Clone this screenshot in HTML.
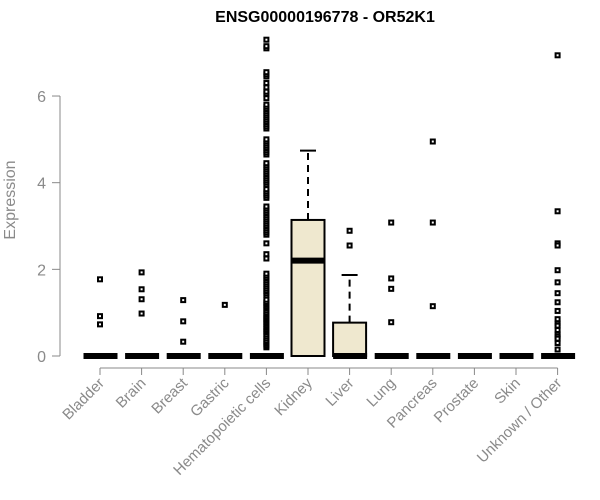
<!DOCTYPE html>
<html><head><meta charset="utf-8"><style>
html,body{margin:0;padding:0;background:#fff;}
svg{display:block;font-family:"Liberation Sans",Arial,sans-serif;}
</style></head><body>
<svg id="chart" width="600" height="500" viewBox="0 0 600 500">
<text x="325" y="22" text-anchor="middle" font-weight="bold" font-size="16">ENSG00000196778 - OR52K1</text>
<text transform="translate(15,200) rotate(-90)" text-anchor="middle" font-size="16" fill="#8a8a8a">Expression</text>
<g id="axes"></g><g id="marks"></g>
</svg>
<script>
const categories=["Bladder","Brain","Breast","Gastric","Hematopoietic cells","Kidney","Liver","Lung","Pancreas","Prostate","Skin","Unknown / Other"];
const q1=[0,0,0,0,0,0,0,0,0,0,0,0];
const medians=[0,0,0,0,0,2.2,0,0,0,0,0,0];
const q3=[0,0,0,0,0,3.14,0.77,0,0,0,0,0];
const whiskerLow=[0,0,0,0,0,0,0,0,0,0,0,0];
const whiskerHigh=[0,0,0,0,0,4.74,1.87,0,0,0,0,0];
const outliers=[
 [1.77,0.92,0.73],
 [1.93,1.54,1.31,0.98],
 [1.29,0.8,0.33],
 [1.18],
 [0.2,0.24,0.28,0.32,0.35,0.4,0.45,0.5,0.55,0.58,0.62,0.66,0.7,0.74,0.78,0.82,0.85,0.88,0.92,0.96,1.0,1.05,1.1,1.14,1.18,1.22,1.25,1.3,1.4,1.45,1.5,1.55,1.6,1.65,1.7,1.75,1.8,1.85,1.9,2.25,2.35,2.6,2.8,2.85,2.9,2.95,3.0,3.05,3.1,3.15,3.2,3.25,3.3,3.35,3.4,3.45,3.65,3.7,3.75,3.8,3.85,3.95,4.0,4.05,4.1,4.15,4.2,4.25,4.3,4.35,4.4,4.45,4.65,4.7,4.75,4.8,4.85,4.9,4.95,5.0,5.25,5.3,5.35,5.4,5.45,5.5,5.55,5.6,5.65,5.7,5.75,5.8,5.95,6.05,6.1,6.2,6.3,6.45,6.5,6.55,7.1,7.15,7.3],
 [],
 [2.89,2.55],
 [3.08,1.79,1.55,0.78],
 [4.95,3.08,1.15],
 [],[],
 [6.94,3.34,2.6,2.55,1.98,1.7,1.45,1.24,1.04,0.85,0.75,0.7,0.6,0.5,0.45,0.4,0.3,0.15]
];
const yTicks=[0,2,4,6];
const NS="http://www.w3.org/2000/svg";
const x0=100,dx=41.6,y0=356,ky=43.33,hw=16.5;
const xs=i=>x0+i*dx, ys=v=>y0-v*ky;
const axes=document.getElementById('axes'),marks=document.getElementById('marks');
function mk(t,a,p){const e=document.createElementNS(NS,t);for(const k in a)e.setAttribute(k,a[k]);p.appendChild(e);return e;}
let yl=mk('line',{x1:60,x2:60,y1:ys(6),y2:ys(0),stroke:'#888'},axes);


yTicks.forEach(t=>{
 let l=mk('line',{x1:52,x2:60,y1:ys(t),y2:ys(t),stroke:'#888'},axes);
 
 
 let tx=mk('text',{x:46,y:ys(t)+6,'text-anchor':'end','font-size':16,fill:'#8a8a8a'},axes);tx.textContent=t;
 
 
});
let xl=mk('line',{x1:xs(0),x2:xs(11),y1:368,y2:368,stroke:'#888'},axes);


categories.forEach((c,i)=>{
 const x=xs(i);
 let l=mk('line',{x1:x,x2:x,y1:368,y2:375,stroke:'#888'},axes);
 
 
 let t=mk('text',{transform:`translate(${x+5},${384}) rotate(-45)`,'text-anchor':'end','font-size':15,fill:'#8a8a8a'},axes);t.textContent=c;
 
 
 const g=mk('g',{},marks);
 
 
 if(whiskerHigh[i]>q3[i]){
  mk('line',{x1:x,x2:x,y1:ys(q3[i]),y2:ys(whiskerHigh[i]),stroke:'#000','stroke-width':2,'stroke-dasharray':'7,5'},g);
  mk('line',{x1:x-8,x2:x+8,y1:ys(whiskerHigh[i]),y2:ys(whiskerHigh[i]),stroke:'#000','stroke-width':2},g);
 }
 if(q3[i]>q1[i]) mk('rect',{x:x-hw,y:ys(q3[i]),width:2*hw,height:ys(q1[i])-ys(q3[i]),fill:'#efe8cf',stroke:'#000','stroke-width':2},g);
 outliers[i].forEach(v=>{
  let p=mk('rect',{x:x-2,y:ys(v)-2,width:4,height:4,fill:'#fff',stroke:'#000','stroke-width':2},g);
  
  
 });
 let m=mk('line',{x1:x-hw,x2:x+hw+1,y1:ys(medians[i]),y2:ys(medians[i]),stroke:'#000','stroke-width':6},g);
 
 
});
</script>
</body></html>
